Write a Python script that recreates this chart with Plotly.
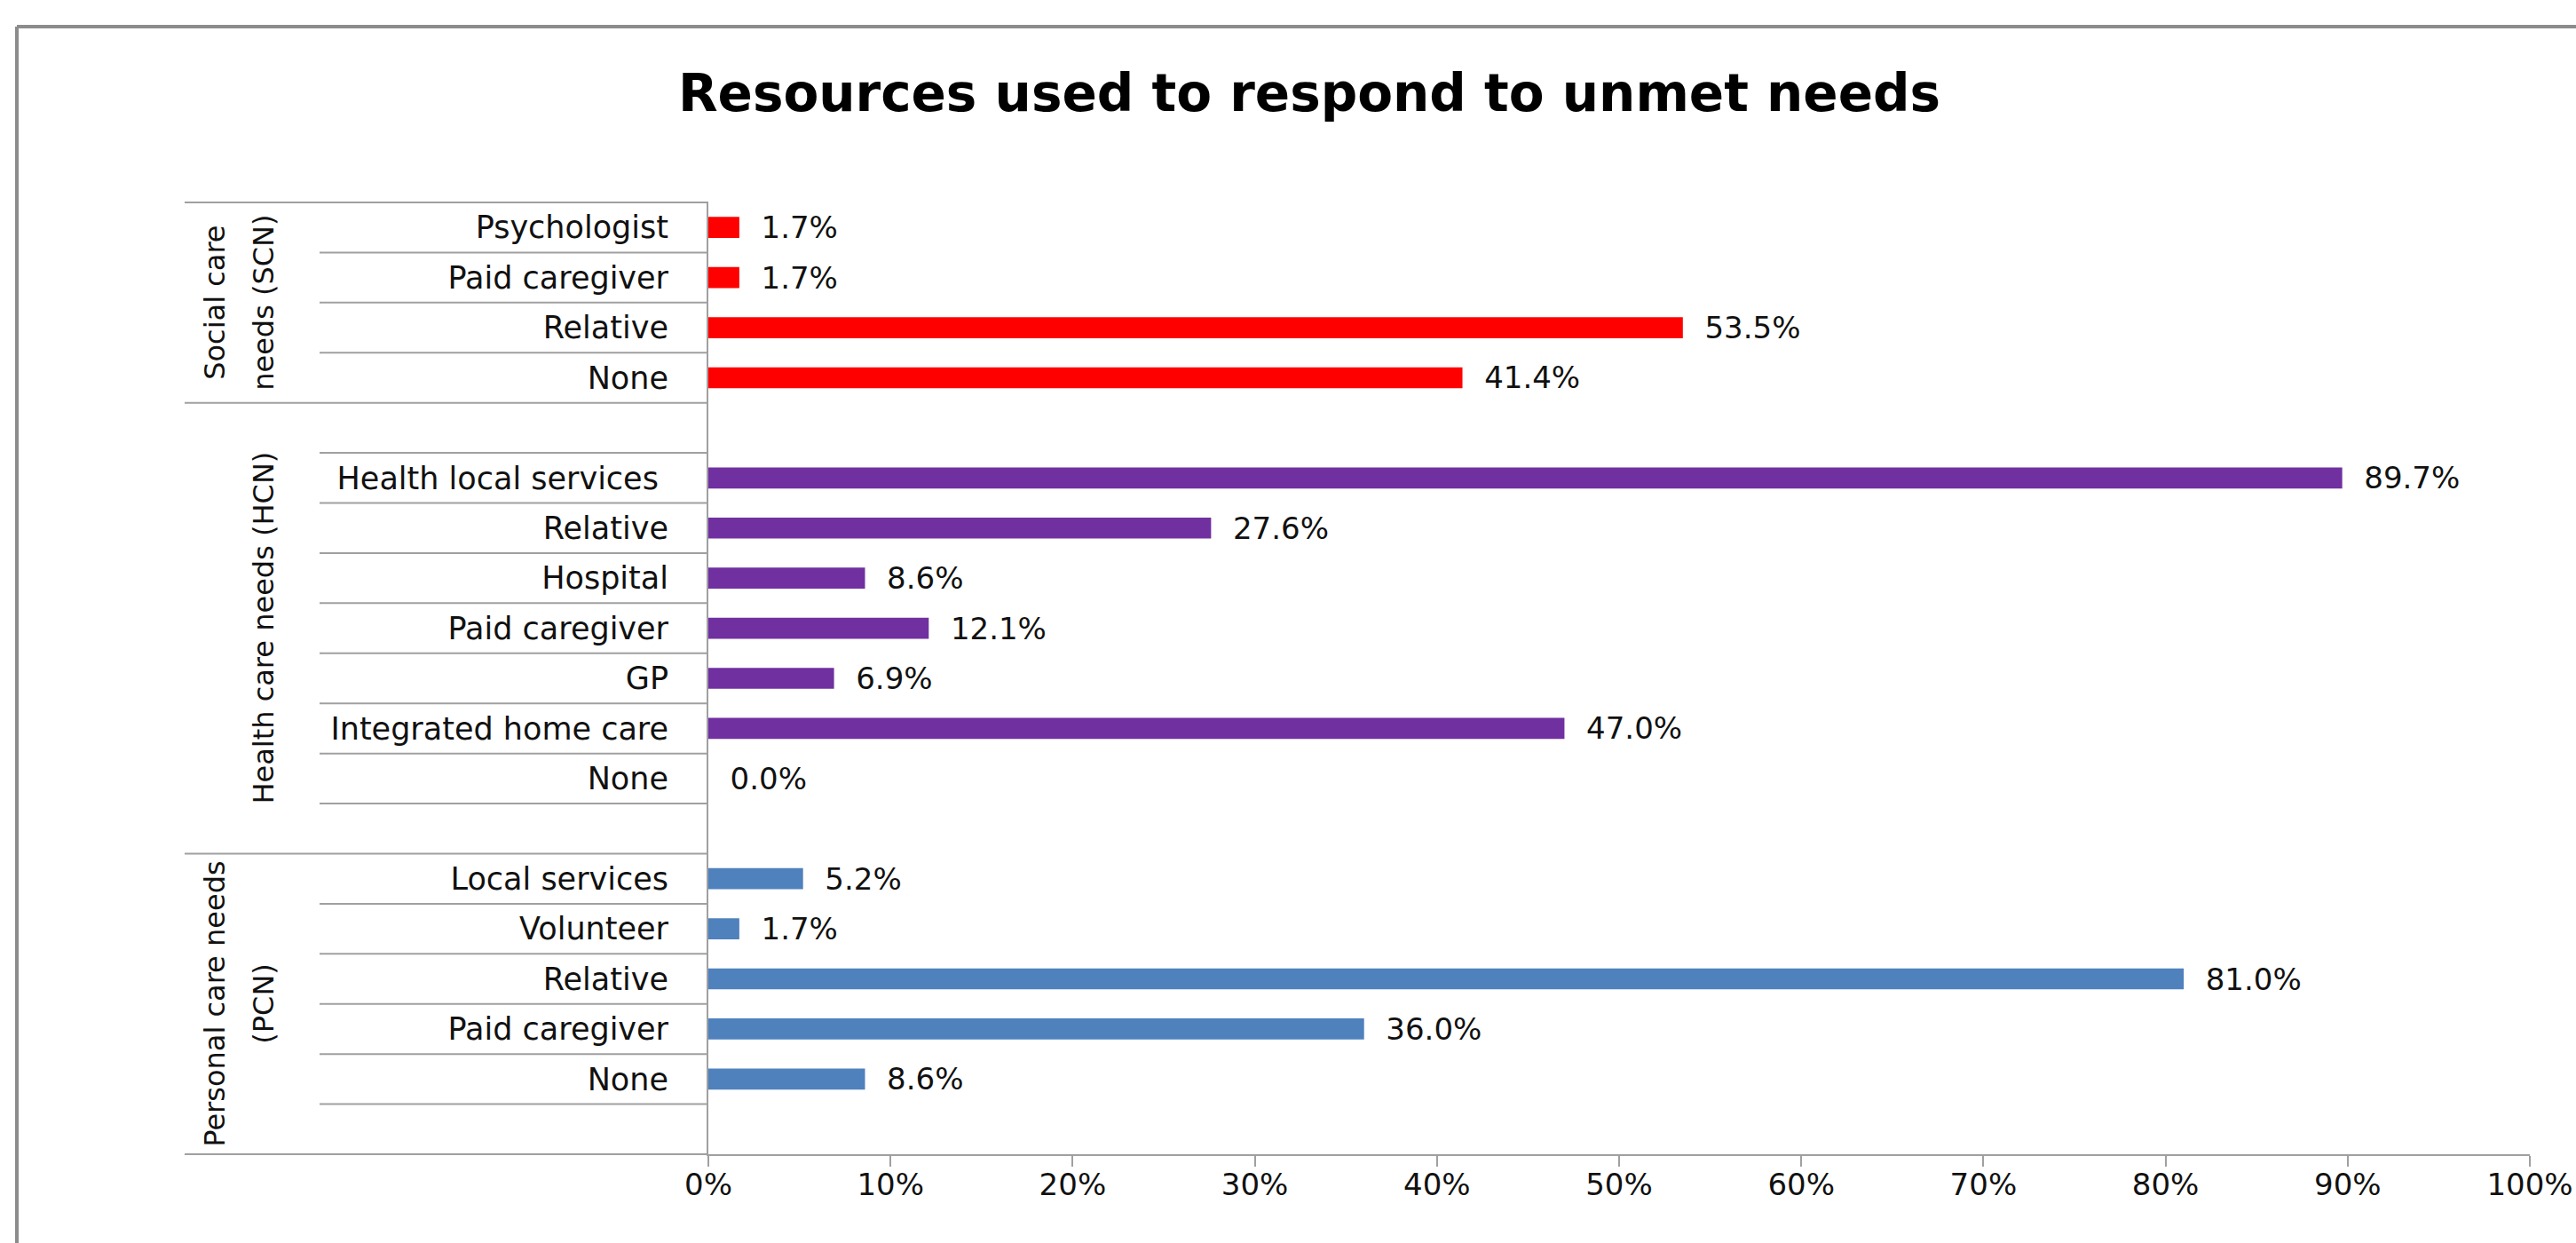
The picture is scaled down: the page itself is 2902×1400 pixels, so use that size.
import plotly.graph_objects as go

# ---------------- data ----------------
group_names = ["Social care needs (SCN)", "Health care needs (HCN)", "Personal care needs (PCN)"]
group_label_lines = [["Social care", "needs (SCN)"], ["Health care needs (HCN)"], ["Personal care needs", "(PCN)"]]

scn_items = ["Psychologist", "Paid caregiver", "Relative", "None"]
scn_values = [1.7, 1.7, 53.5, 41.4]

hcn_items = ["Health local services\u00a0", "Relative", "Hospital", "Paid caregiver", "GP",
             "Integrated home care", "None"]
hcn_values = [89.7, 27.6, 8.6, 12.1, 6.9, 47.0, 0.0]

pcn_items = ["Local services", "Volunteer", "Relative", "Paid caregiver", "None"]
pcn_values = [5.2, 1.7, 81.0, 36.0, 8.6]

x_tick_values = [0, 10, 20, 30, 40, 50, 60, 70, 80, 90, 100]
x_tick_labels = ["0%", "10%", "20%", "30%", "40%", "50%", "60%", "70%", "80%", "90%", "100%"]

title_text = "Resources used to respond to unmet needs"

# ---------------- style / layout ----------------
W, H = 2902, 1400
ML, MR, MT, MB = 798, 52, 228, 100
PW, PH = W - ML - MR, H - MT - MB
FONT = "DejaVu Sans"
GRID = "#A0A0A0"
colors = ["#FF0000", "#7030A0", "#4F81BD"]
blank_rows = [(0, 0), (1, 1), (0, 1)]  # empty category rows before/after each group

groups = [(scn_items, scn_values), (hcn_items, hcn_values), (pcn_items, pcn_values)]

row = 0
group_pos, group_bounds = [], []
for (items, vals), (pb, pa) in zip(groups, blank_rows):
    start = row
    row += pb
    pos = list(range(row, row + len(items)))
    row += len(items) + pa
    group_pos.append(pos)
    group_bounds.append((start - 0.5, row - 0.5))
N = row


def px_to_paper_x(px):
    return (px - ML) / PW


def row_to_paper_y(v):
    return 1 - (v + 0.5) / N


fig = go.Figure()
for (items, vals), pos, col in zip(groups, group_pos, colors):
    fig.add_trace(go.Bar(
        x=vals, y=pos, orientation="h",
        marker=dict(color=col, line=dict(width=0)),
        text=["\u00a0\u00a0" + f"{v:.1f}%" for v in vals],
        textposition="outside", constraintext="none", cliponaxis=False,
        textfont=dict(family=FONT, size=34, color="#111111"),
        showlegend=False, hoverinfo="x+y",
    ))

all_pos = [p for pos in group_pos for p in pos]
all_items = [it for items, _ in groups for it in items]

shapes = []
outer = set()
for a, b in group_bounds:
    outer.add(a)
    outer.add(b)
for k in range(-1, N):
    v = k + 0.5
    x0 = px_to_paper_x(208) if v in outer else px_to_paper_x(360)
    shapes.append(dict(type="line", xref="paper", yref="paper",
                       x0=x0, x1=0, y0=row_to_paper_y(v), y1=row_to_paper_y(v),
                       line=dict(color=GRID, width=2)))

# outer chart border (top and left edges; right/bottom fall outside the picture)
bx, by = 19, 30
shapes.append(dict(type="line", xref="paper", yref="paper",
                   x0=px_to_paper_x(bx), x1=px_to_paper_x(W + 10),
                   y0=(MT + PH - by) / PH, y1=(MT + PH - by) / PH,
                   line=dict(color="#8C8C8C", width=4)))
shapes.append(dict(type="line", xref="paper", yref="paper",
                   x0=px_to_paper_x(bx), x1=px_to_paper_x(bx),
                   y0=(MT + PH - by) / PH, y1=(MT + PH - H - 10) / PH,
                   line=dict(color="#8C8C8C", width=4)))

annotations = []
line_x = {2: [242, 297], 1: [297]}
for lines, (a, b) in zip(group_label_lines, group_bounds):
    c = (a + b) / 2
    for txt, xp in zip(lines, line_x[len(lines)]):
        annotations.append(dict(
            text=txt, xref="paper", yref="paper",
            x=px_to_paper_x(xp), y=row_to_paper_y(c),
            xanchor="center", yanchor="middle", textangle=-90, showarrow=False,
            font=dict(family=FONT, size=32, color="#111111"),
        ))

fig.update_layout(
    width=W, height=H,
    margin=dict(l=ML, r=MR, t=MT, b=MB, autoexpand=False),
    paper_bgcolor="white", plot_bgcolor="white",
    barmode="overlay", bargap=0.58,
    title=dict(text=title_text, x=1475 / W, xanchor="center", xref="container",
               y=1 - 105 / H, yanchor="middle", yref="container",
               font=dict(family=FONT, size=58, color="#000000", weight="bold")),
    xaxis=dict(range=[0, 100], tickvals=x_tick_values, ticktext=x_tick_labels,
               showgrid=False, zeroline=False, showline=True, linecolor=GRID, linewidth=2,
               ticks="outside", ticklen=12, tickwidth=2, tickcolor=GRID,
               ticklabelstandoff=-9,
               tickfont=dict(family=FONT, size=34, color="#111111")),
    yaxis=dict(range=[N - 0.5, -0.5], tickvals=all_pos, ticktext=all_items,
               showgrid=False, zeroline=False, showline=True, linecolor=GRID, linewidth=2,
               ticks="", ticklabelstandoff=36,
               tickfont=dict(family=FONT, size=35, color="#111111")),
    shapes=shapes, annotations=annotations,
    font=dict(family=FONT),
)

fig.write_html("out.html")
